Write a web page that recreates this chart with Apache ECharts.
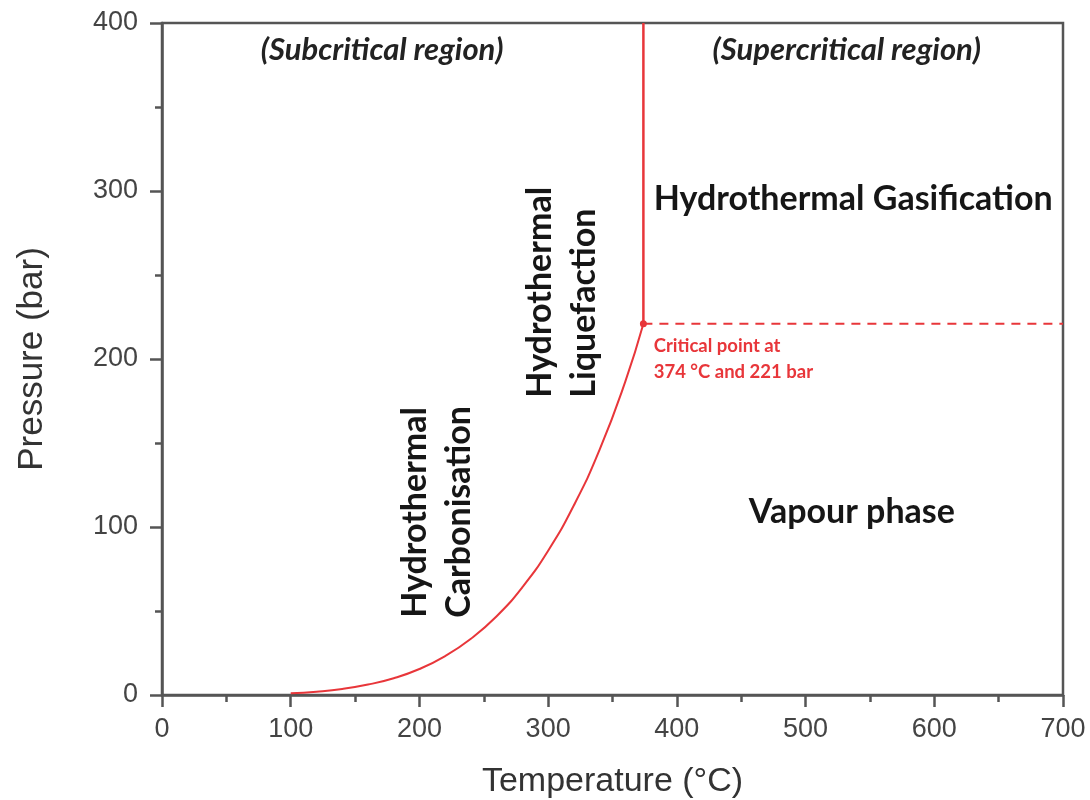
<!DOCTYPE html>
<html>
<head>
<meta charset="utf-8">
<script src="https://cdn.jsdelivr.net/npm/echarts@6/dist/echarts.min.js"></script>
<style>
  html, body { margin: 0; padding: 0; background: #fff; }
  #main { width: 1090px; height: 800px; }
</style>
</head>
<body>
<div id="main"></div>
<script>
// saturation curve of water
const satTemp = [100, 120, 140, 160, 180, 200, 220, 240, 260, 280, 300, 320, 340, 360, 374];
const satPressure = [1.0, 2.0, 3.6, 6.2, 10.0, 15.5, 23.2, 33.5, 46.9, 64.2, 85.9, 112.9, 146.0, 186.7, 221];

// critical point and the boundary lines starting there
const criticalPoint = [374, 221];
const supercriticalLine = [[374, 221], [374, 400]];
const criticalPressureLine = [[374, 221], [700, 221]];

// axis ranges / ticks
const xTicks = [0, 100, 200, 300, 400, 500, 600, 700];
const yTicks = [0, 100, 200, 300, 400];

const red = '#e8363a';
const axisColor = '#555';
const textFont = 'Lato, "Open Sans", sans-serif';
const axisFont = '"Liberation Sans", Arial, sans-serif';

// text annotations placed in data coordinates
const annotations = [
  { value: [171, 384], text: '(Subcritical region)', style: 'italic' },
  { value: [532, 384], text: '(Supercritical region)', style: 'italic' },
  { value: [537, 295], text: 'Hydrothermal Gasification', style: 'big' },
  { value: [536, 109], text: 'Vapour phase', style: 'big' },
  { value: [311, 177], text: 'Hydrothermal\nLiquefaction', style: 'vertical' },
  { value: [214, 46], text: 'Hydrothermal\nCarbonisation', style: 'vertical' },
  { value: [382, 200], text: 'Critical point at\n374 °C and 221 bar', style: 'note' }
];

function labelFor (a) {
  const base = {
    show: true,
    position: 'inside',
    formatter: a.text,
    fontFamily: textFont,
    fontWeight: 'bold',
    color: '#161616',
    opacity: 1
  };
  if (a.style === 'italic') {
    return Object.assign(base, { fontSize: 31, fontStyle: 'italic', color: '#222' });
  }
  if (a.style === 'big') {
    return Object.assign(base, { fontSize: 34 });
  }
  if (a.style === 'vertical') {
    return Object.assign(base, { fontSize: 34, rotate: 90, align: 'left', verticalAlign: 'middle', lineHeight: 44 });
  }
  return Object.assign(base, { fontSize: 18.5, color: red, align: 'left', verticalAlign: 'middle', lineHeight: 26 });
}

const chart = echarts.init(document.getElementById('main'));

const option = {
  animation: false,
  backgroundColor: '#fff',
  grid: {
    left: 162,
    right: 27,
    top: 23,
    bottom: 105,
    outerBoundsMode: 'none',
    show: true,
    borderColor: axisColor,
    borderWidth: 2.5
  },
  xAxis: {
    type: 'value',
    min: xTicks[0],
    max: xTicks[xTicks.length - 1],
    interval: 100,
    name: 'Temperature (°C)',
    nameLocation: 'middle',
    nameGap: 70,
    nameTextStyle: { fontFamily: axisFont, fontSize: 34, color: '#333' },
    axisLine: { lineStyle: { color: axisColor, width: 2.5 } },
    axisTick: { show: true, inside: false, length: 12, lineStyle: { color: axisColor, width: 2.5 } },
    minorTick: { show: true, splitNumber: 2, length: 7, lineStyle: { color: axisColor, width: 2.5 } },
    axisLabel: { fontFamily: axisFont, fontSize: 27, color: '#444', margin: 21 },
    splitLine: { show: false }
  },
  yAxis: {
    type: 'value',
    min: yTicks[0],
    max: yTicks[yTicks.length - 1],
    interval: 100,
    name: 'Pressure (bar)',
    nameLocation: 'middle',
    nameGap: 112,
    nameTextStyle: { fontFamily: axisFont, fontSize: 35, color: '#333' },
    axisLine: { lineStyle: { color: axisColor, width: 2.5 } },
    axisTick: { show: true, inside: false, length: 12, lineStyle: { color: axisColor, width: 2.5 } },
    minorTick: { show: true, splitNumber: 2, length: 7, lineStyle: { color: axisColor, width: 2.5 } },
    axisLabel: { fontFamily: axisFont, fontSize: 27, color: '#444', margin: 24 },
    splitLine: { show: false }
  },
  series: [
    {
      name: 'saturation',
      type: 'line',
      smooth: true,
      showSymbol: false,
      data: satTemp.map((t, i) => [t, satPressure[i]]),
      lineStyle: { color: red, width: 2 },
      z: 3
    },
    {
      name: 'supercritical',
      type: 'line',
      showSymbol: false,
      data: supercriticalLine,
      lineStyle: { color: red, width: 2.5 },
      z: 3
    },
    {
      name: 'critical pressure',
      type: 'line',
      showSymbol: false,
      data: criticalPressureLine,
      lineStyle: { color: red, width: 2, type: [9, 7] },
      z: 3
    },
    {
      name: 'critical point',
      type: 'scatter',
      symbolSize: 7,
      itemStyle: { color: red, opacity: 1 },
      data: [criticalPoint],
      z: 4
    },
    {
      name: 'annotations',
      type: 'scatter',
      symbolSize: 0,
      silent: true,
      itemStyle: { opacity: 1 },
      data: annotations.map(a => ({ value: a.value, label: labelFor(a) })),
      z: 5
    }
  ]
};

chart.setOption(option);
</script>
</body>
</html>
